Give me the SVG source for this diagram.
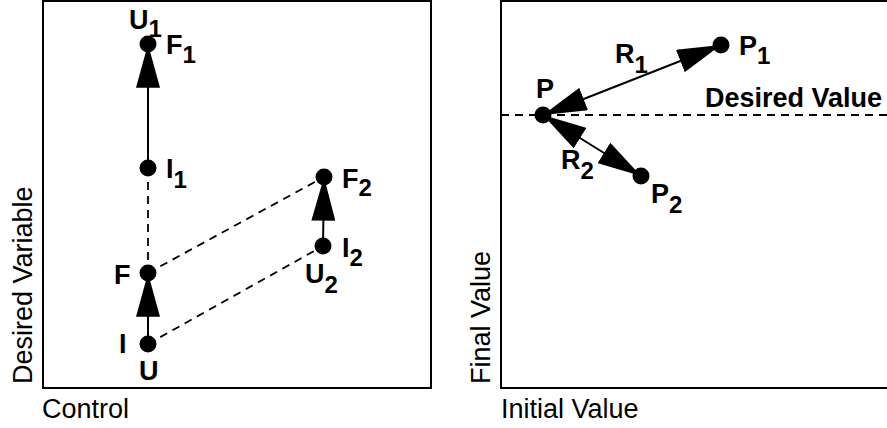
<svg xmlns="http://www.w3.org/2000/svg" width="887" height="428" viewBox="0 0 887 428">
<style>
.frame{fill:none;stroke:#000;stroke-width:2}
.solid{stroke:#000;stroke-width:2;fill:none}
.dash{stroke:#000;stroke-width:1.8;stroke-dasharray:8,6;fill:none}
.dot{fill:#000}
.lab{font-family:"Liberation Sans",Arial,sans-serif;font-weight:bold;font-size:27px;fill:#000}
.sub{font-size:24px}
.axis{font-family:"Liberation Sans",Arial,sans-serif;font-size:27px;fill:#000}
</style>
<defs>
<marker id="ah" markerUnits="userSpaceOnUse" markerWidth="44" markerHeight="24" viewBox="0 0 40 22" refX="40" refY="11" orient="auto-start-reverse">
<path d="M0,0 L40,11 L0,22 z" fill="#000"/>
</marker>
</defs>
<rect class="frame" x="43" y="1" width="388" height="387"/>
<rect class="frame" x="501" y="1" width="400" height="387"/>
<text class="axis" x="42" y="418">Control</text>
<text class="axis" transform="translate(32,384) rotate(-90)">Desired Variable</text>
<text class="axis" x="501" y="418">Initial Value</text>
<text class="axis" transform="translate(490,384) rotate(-90)">Final Value</text>
<g id="connectors">
<line class="dash" x1="148" y1="168" x2="148" y2="273"/>
<line class="dash" x1="148" y1="273" x2="324" y2="177"/>
<line class="dash" x1="148" y1="344" x2="323" y2="246"/>
<line class="dash" x1="501" y1="115" x2="887" y2="115"/>
<line class="solid" x1="148" y1="168" x2="148" y2="44" marker-end="url(#ah)"/>
<line class="solid" x1="148" y1="344" x2="148" y2="273" marker-end="url(#ah)"/>
<line class="solid" x1="323" y1="246" x2="324" y2="177" marker-end="url(#ah)"/>
<line class="solid" x1="543" y1="115" x2="721" y2="45" marker-start="url(#ah)" marker-end="url(#ah)"/>
<line class="solid" x1="543" y1="115" x2="641" y2="176" marker-start="url(#ah)" marker-end="url(#ah)"/>
</g>
<g id="U1F1"><circle class="dot" cx="148" cy="44" r="8.5"/>
<text class="lab" x="129" y="29">U<tspan class="sub" dy="8">1</tspan></text>
<text class="lab" x="166" y="54">F<tspan class="sub" dy="9">1</tspan></text></g>
<g id="I1"><circle class="dot" cx="148" cy="168" r="8.5"/>
<text class="lab" x="166" y="178">I<tspan class="sub" dy="10">1</tspan></text></g>
<g id="F"><circle class="dot" cx="148" cy="273" r="8.5"/>
<text class="lab" x="114" y="284">F</text></g>
<g id="IU"><circle class="dot" cx="148" cy="344" r="8.5"/>
<text class="lab" x="119" y="353">I</text>
<text class="lab" x="139" y="380">U</text></g>
<g id="F2"><circle class="dot" cx="324" cy="177" r="8.5"/>
<text class="lab" x="342" y="188">F<tspan class="sub" dy="8">2</tspan></text></g>
<g id="I2U2"><circle class="dot" cx="323" cy="246" r="8.5"/>
<text class="lab" x="342" y="257">I<tspan class="sub" dy="9">2</tspan></text>
<text class="lab" x="305" y="283">U<tspan class="sub" dy="10">2</tspan></text></g>
<g id="P"><circle class="dot" cx="543" cy="115" r="8.5"/>
<text class="lab" x="536" y="98">P</text></g>
<g id="P1"><circle class="dot" cx="721" cy="45" r="8.5"/>
<text class="lab" x="739" y="55">P<tspan class="sub" dy="9">1</tspan></text></g>
<g id="P2"><circle class="dot" cx="641" cy="176" r="8.5"/>
<text class="lab" x="651" y="203">P<tspan class="sub" dy="10">2</tspan></text></g>
<g id="R1"><text class="lab" x="615" y="63">R<tspan class="sub" dy="10">1</tspan></text></g>
<g id="R2"><text class="lab" x="561" y="169">R<tspan class="sub" dy="10">2</tspan></text></g>
<g id="desired"><text class="lab" x="705" y="107">Desired Value</text></g>
</svg>
